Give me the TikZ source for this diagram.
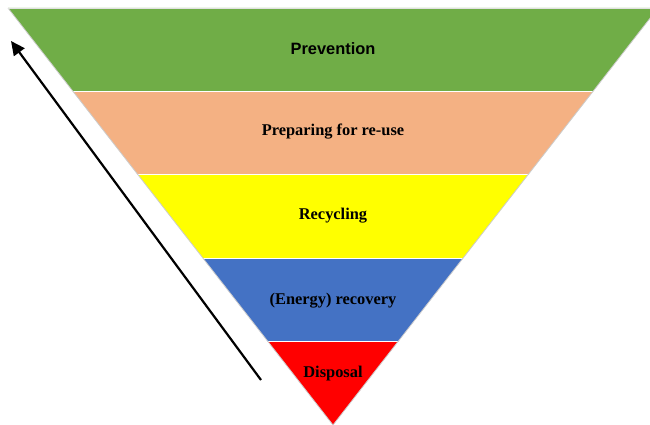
\documentclass[tikz,border=0pt]{standalone}
\usepackage{fontspec}
\setmainfont{Liberation Serif}
\setsansfont{Liberation Sans}
\usetikzlibrary{calc,arrows.meta}

\definecolor{prevgreen}{HTML}{70AD47}
\definecolor{reusesalmon}{HTML}{F4B183}
\definecolor{recyyellow}{HTML}{FFFF00}
\definecolor{energyblue}{HTML}{4472C4}
\definecolor{dispred}{HTML}{FF0000}

\begin{document}
\begin{tikzpicture}[x=1pt, y=-1pt,
  band/.style={draw=white, line width=1pt},
  label/.style={font=\fontsize{16.4}{18}\selectfont\bfseries, text=black, inner sep=0pt},
  every edge/.style={draw=black, line width=2.2pt}
]
\useasboundingbox (0,0) rectangle (650,425);
\clip (0,0) rectangle (650,425);

% ---- Corners of the funnel ----
\coordinate (TL) at (8, 8);
\coordinate (TR) at (658, 8);
\coordinate (AP) at (333, 425);

% ---- Bands (top to bottom) ----
\fill[prevgreen]   (TL) -- (TR) -- ($(TR)!0.2!(AP)$) -- ($(TL)!0.2!(AP)$) -- cycle;
\fill[reusesalmon] ($(TL)!0.2!(AP)$) -- ($(TR)!0.2!(AP)$) -- ($(TR)!0.4!(AP)$) -- ($(TL)!0.4!(AP)$) -- cycle;
\fill[recyyellow]  ($(TL)!0.4!(AP)$) -- ($(TR)!0.4!(AP)$) -- ($(TR)!0.6!(AP)$) -- ($(TL)!0.6!(AP)$) -- cycle;
\fill[energyblue]  ($(TL)!0.6!(AP)$) -- ($(TR)!0.6!(AP)$) -- ($(TR)!0.8!(AP)$) -- ($(TL)!0.8!(AP)$) -- cycle;
\fill[dispred]     ($(TL)!0.8!(AP)$) -- ($(TR)!0.8!(AP)$) -- (AP) -- cycle;

% thin separators and outline
\foreach \t in {0.2,0.4,0.6,0.8}
  \draw[band] ($(TL)!\t!(AP)$) -- ($(TR)!\t!(AP)$);
\draw[black!20, line width=0.8pt] (TL) -- (AP) -- (TR);
\draw[black!12, line width=0.8pt] (TL) -- (TR);

% ---- Labels ----
\node[label, font=\fontsize{16.4}{18}\selectfont\sffamily\bfseries] (prev) at (333, 49)  {Prevention};
\node[label] (reuse)  at (333, 132) {Preparing for re-use};
\node[label] (recy)   at (333, 216) {Recycling};
\node[label] (energy) at (333, 301) {(Energy) recovery};
\node[label] (disp)   at (333, 374) {Disposal};

% ---- Arrow up the left side ----
\coordinate (low)  at (261, 380);
\coordinate (high) at (11, 41);
\draw (low) edge[-{Triangle[length=14pt, width=13pt]}] (high);
\end{tikzpicture}
\end{document}
